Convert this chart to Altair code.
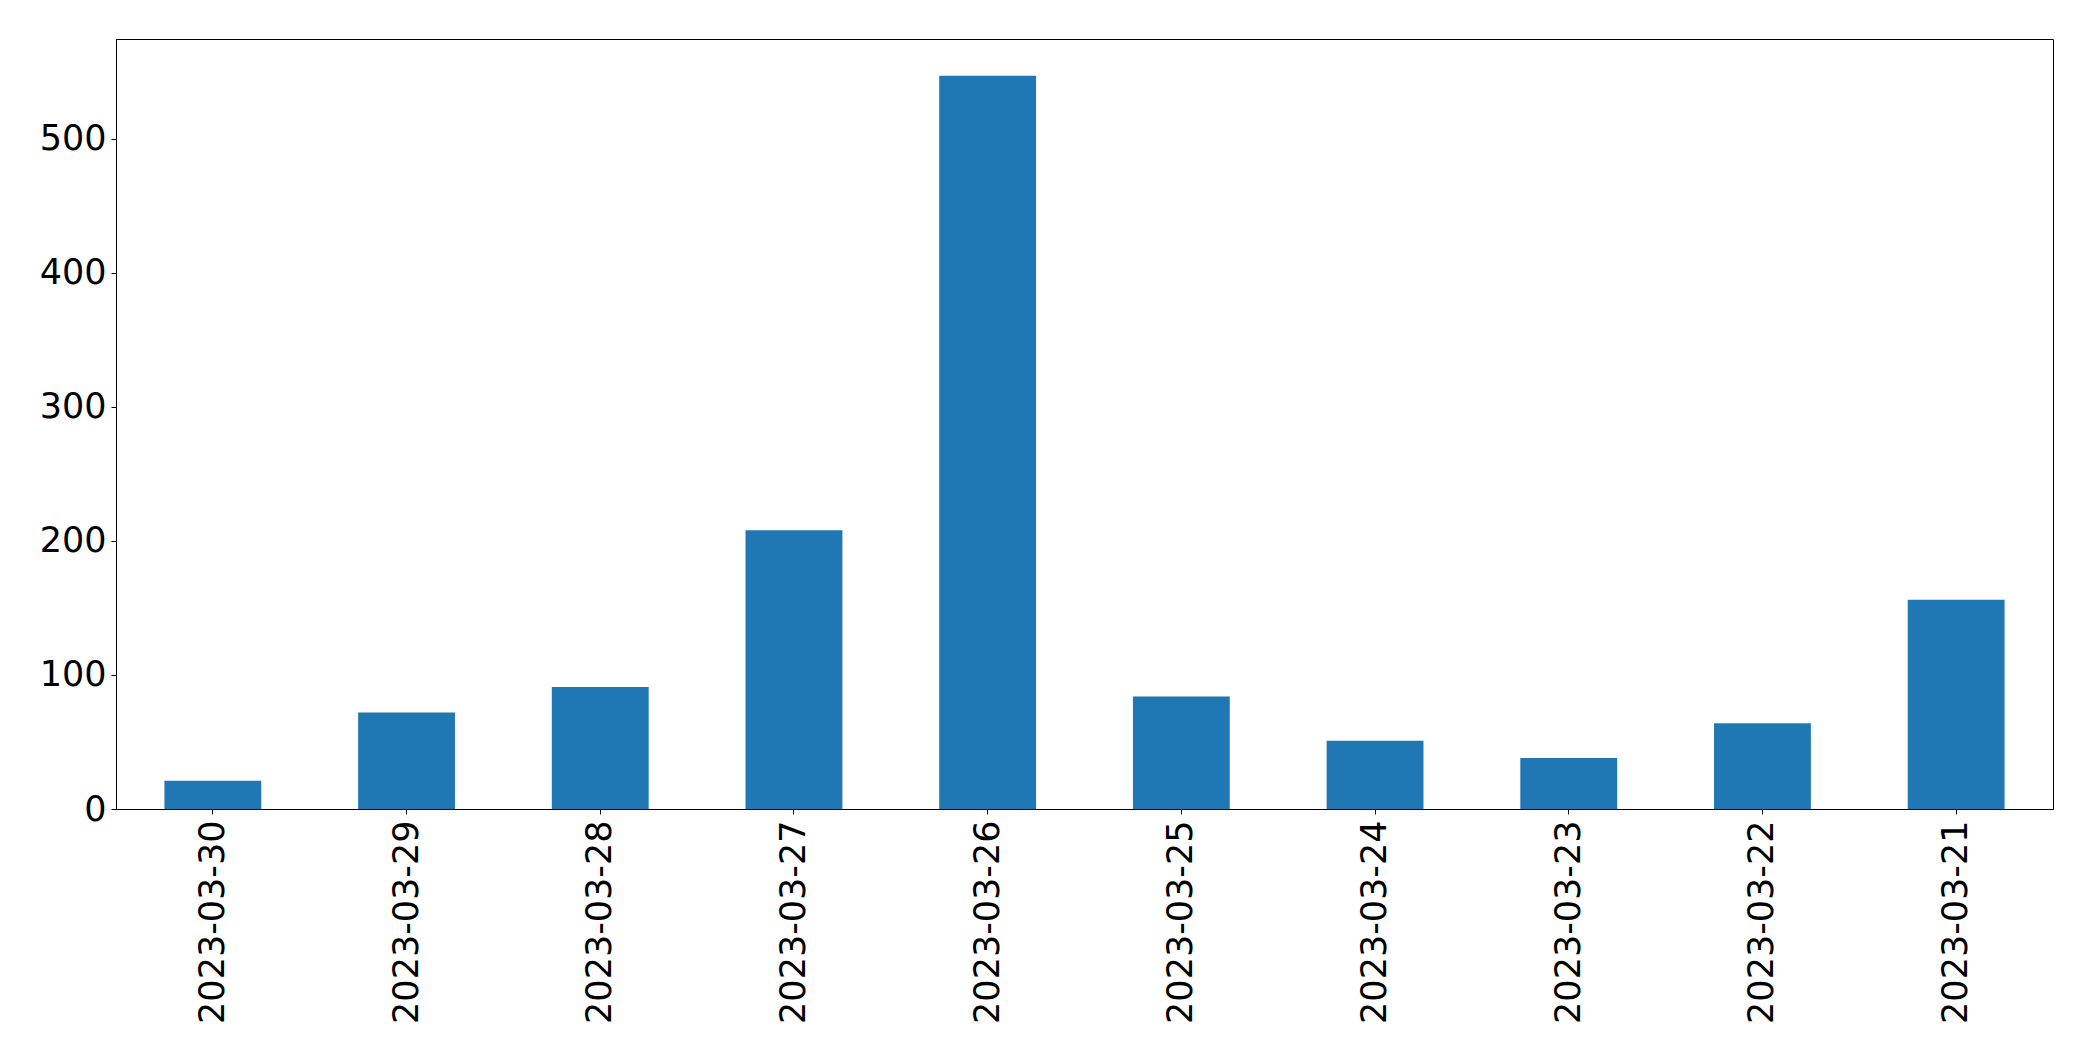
import altair as alt
import pandas as pd

dates = ["2023-03-30", "2023-03-29", "2023-03-28", "2023-03-27", "2023-03-26",
         "2023-03-25", "2023-03-24", "2023-03-23", "2023-03-22", "2023-03-21"]
counts = [21, 72, 91, 208, 547, 84, 51, 38, 64, 156]
y_ticks = [0, 100, 200, 300, 400, 500]

df = pd.DataFrame({"date": dates, "count": counts})

FONT = "DejaVu Sans"

chart = alt.Chart(df).mark_bar(color="#1f77b4").encode(
    x=alt.X("date:N", sort=dates,
            scale=alt.Scale(paddingInner=0.5, paddingOuter=0.25),
            axis=alt.Axis(title=None, labelAngle=-90, labelFontSize=35, labelFont=FONT,
                          labelColor="black", tickColor="black", domainColor="black",
                          tickSize=5, labelPadding=6, grid=False, labelLimit=500)),
    y=alt.Y("count:Q",
            scale=alt.Scale(domain=[0, 574.35], nice=False, zero=True),
            axis=alt.Axis(title=None, values=y_ticks, labelFontSize=35, labelFont=FONT,
                          labelColor="black", tickColor="black", domainColor="black",
                          tickSize=5, labelPadding=5, grid=False)),
).properties(
    width=1937,
    height=770,
    autosize=alt.AutoSizeParams(type="none"),
    padding={"left": 108, "top": 31, "right": 32, "bottom": 240},
).configure_view(
    stroke="black",
    strokeWidth=1,
).configure_axis(
    domainWidth=1,
    tickWidth=1,
)

chart.save("out.html", embed_options={"renderer": "svg", "actions": False})
